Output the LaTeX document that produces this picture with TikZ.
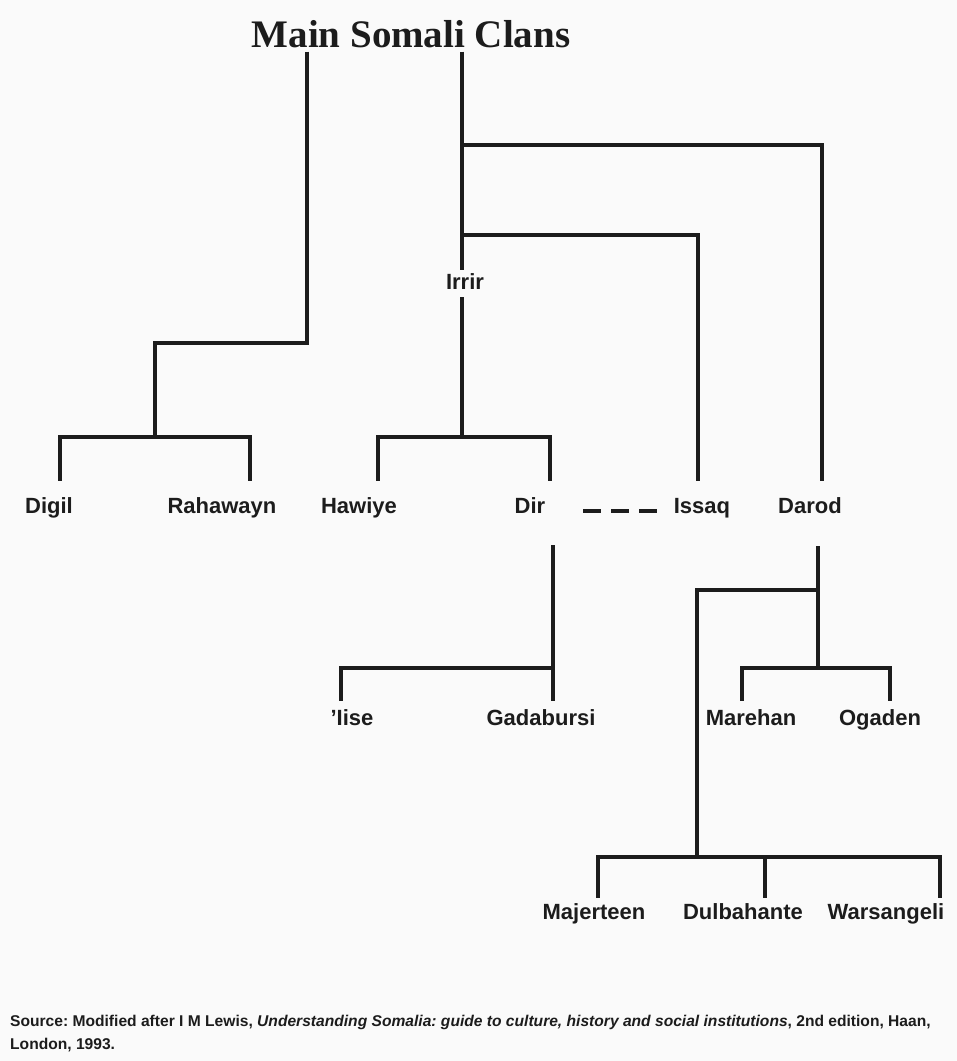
\documentclass[tikz,border=0pt]{standalone}
\usepackage{fontspec}
\setmainfont{Liberation Serif}
\setsansfont{Liberation Sans}
\usetikzlibrary{positioning}
\definecolor{inkblack}{RGB}{28, 28, 28}
\definecolor{paper}{RGB}{250, 250, 250}

\begin{document}
\frenchspacing
\begin{tikzpicture}[
    x=1pt, y=-1pt,
    heading/.style={anchor=base, inner sep=4pt,
      font=\fontsize{39}{41}\selectfont\bfseries, text=inkblack},
    clan/.style={anchor=base, text height=16pt, text depth=5pt,
      inner xsep=2pt, inner ysep=#1,
      font=\sffamily\bfseries\fontsize{22}{24}\selectfont, text=inkblack},
    clan/.default=4pt,
    link/.style={line width=3.2pt, color=inkblack},
    src/.style={anchor=north west, align=left, inner sep=0pt,
      font=\sffamily\bfseries\fontsize{15.6}{23}\selectfont, text=inkblack}
]
  \fill[paper] (0,0) rectangle (957,1061);
  \useasboundingbox (0,0) rectangle (957,1061);

  \node[heading] (title) at (411,47) {Main Somali Clans};
  \node[clan=3pt] (irrir) at (465,289) {Irrir};

  % Clans
  \node[clan=16pt] (digil)    at (49,513)  {Digil};
  \node[clan=16pt] (rahawayn) at (222,513) {Rahawayn};
  \node[clan=16pt] (hawiye)   at (359,513) {Hawiye};
  \node[clan=16pt] (dir)      at (530,513) {Dir};
  \node[clan=16pt] (issaq)    at (702,513) {Issaq};
  \node[clan=16pt] (darod)    at (810,513) {Darod};

  % Sub-clans
  \node[clan=8pt] (iise)      at (352,725) {'Iise};
  \node[clan=8pt] (gadabursi) at (541,725) {Gadabursi};
  \node[clan=8pt] (marehan)   at (751,725) {Marehan};
  \node[clan=8pt] (ogaden)    at (880,725) {Ogaden};
  \node[clan=5pt] (majerteen)  at (594,919) {Majerteen};
  \node[clan=5pt] (dulbahante) at (743,919) {Dulbahante};
  \node[clan=5pt] (warsangeli) at (886,919) {Warsangeli};

  \node[src] (source) at (10,1015)
    {Source: Modified after I M Lewis, \emph{Understanding Somalia: guide to culture, history and social institutions}, 2nd edition, Haan,\\
     London, 1993.};

  % Junctions
  \coordinate (lbend)  at (307,343);
  \coordinate (lfork)  at (155,343);
  \coordinate (lbar)   at (155,437);
  \coordinate (jdigil) at (60,437);
  \coordinate (jrahaw) at (250,437);
  \coordinate (stem)   at (462,145);
  \coordinate (jdarod) at (822,145);
  \coordinate (stem2)  at (462,235);
  \coordinate (jissaq) at (698,235);
  \coordinate (cbar)   at (462,437);
  \coordinate (jhawiye) at (378,437);
  \coordinate (jdir)   at (550,437);
  \coordinate (dirbar) at (553,668);
  \coordinate (jiise)  at (341,668);
  \coordinate (darodbar) at (818,668);
  \coordinate (jmarehan) at (742,668);
  \coordinate (jogaden)  at (890,668);
  \coordinate (darodfork) at (818,590);
  \coordinate (jsub)   at (697,590);
  \coordinate (subbar) at (697,857);
  \coordinate (jmaj)   at (598,857);
  \coordinate (jdul)   at (765,857);
  \coordinate (jwar)   at (940,857);

  % Left branch
  \draw[link] (lbend |- title.south) -- (lbend) -- (lfork) -- (lbar);
  \draw[link] (jdigil |- digil.north) -- (jdigil) -- (jrahaw) -- (jrahaw |- rahawayn.north);

  % Main stem
  \draw[link] (stem |- title.south) -- (stem |- irrir.north);
  \draw[link] (stem |- irrir.south) -- (cbar);
  \draw[link] (stem) -- (jdarod) -- (jdarod |- darod.north);
  \draw[link] (stem2) -- (jissaq) -- (jissaq |- issaq.north);
  \draw[link] (jhawiye |- hawiye.north) -- (jhawiye) -- (jdir) -- (jdir |- dir.north);
  \draw[link, dash pattern=on 18pt off 10pt, shorten <=36pt, shorten >=12pt]
    ([yshift=2pt]dir.base east) -- ([yshift=2pt]issaq.base west);

  % Dir
  \draw[link, shorten <=11pt] (dirbar |- dir.south) -- (dirbar);
  \draw[link] (jiise |- iise.north) -- (jiise) -- (dirbar) -- (dirbar |- gadabursi.north);

  % Darod
  \draw[link, shorten <=12pt] (darodbar |- darod.south) -- (darodbar);
  \draw[link] (jmarehan |- marehan.north) -- (jmarehan) -- (jogaden) -- (jogaden |- ogaden.north);
  \draw[link] (darodfork) -- (jsub) -- (subbar);
  \draw[link] (jmaj |- majerteen.north) -- (jmaj) -- (jwar) -- (jwar |- warsangeli.north);
  \draw[link] (jdul) -- (jdul |- dulbahante.north);
\end{tikzpicture}
\end{document}
